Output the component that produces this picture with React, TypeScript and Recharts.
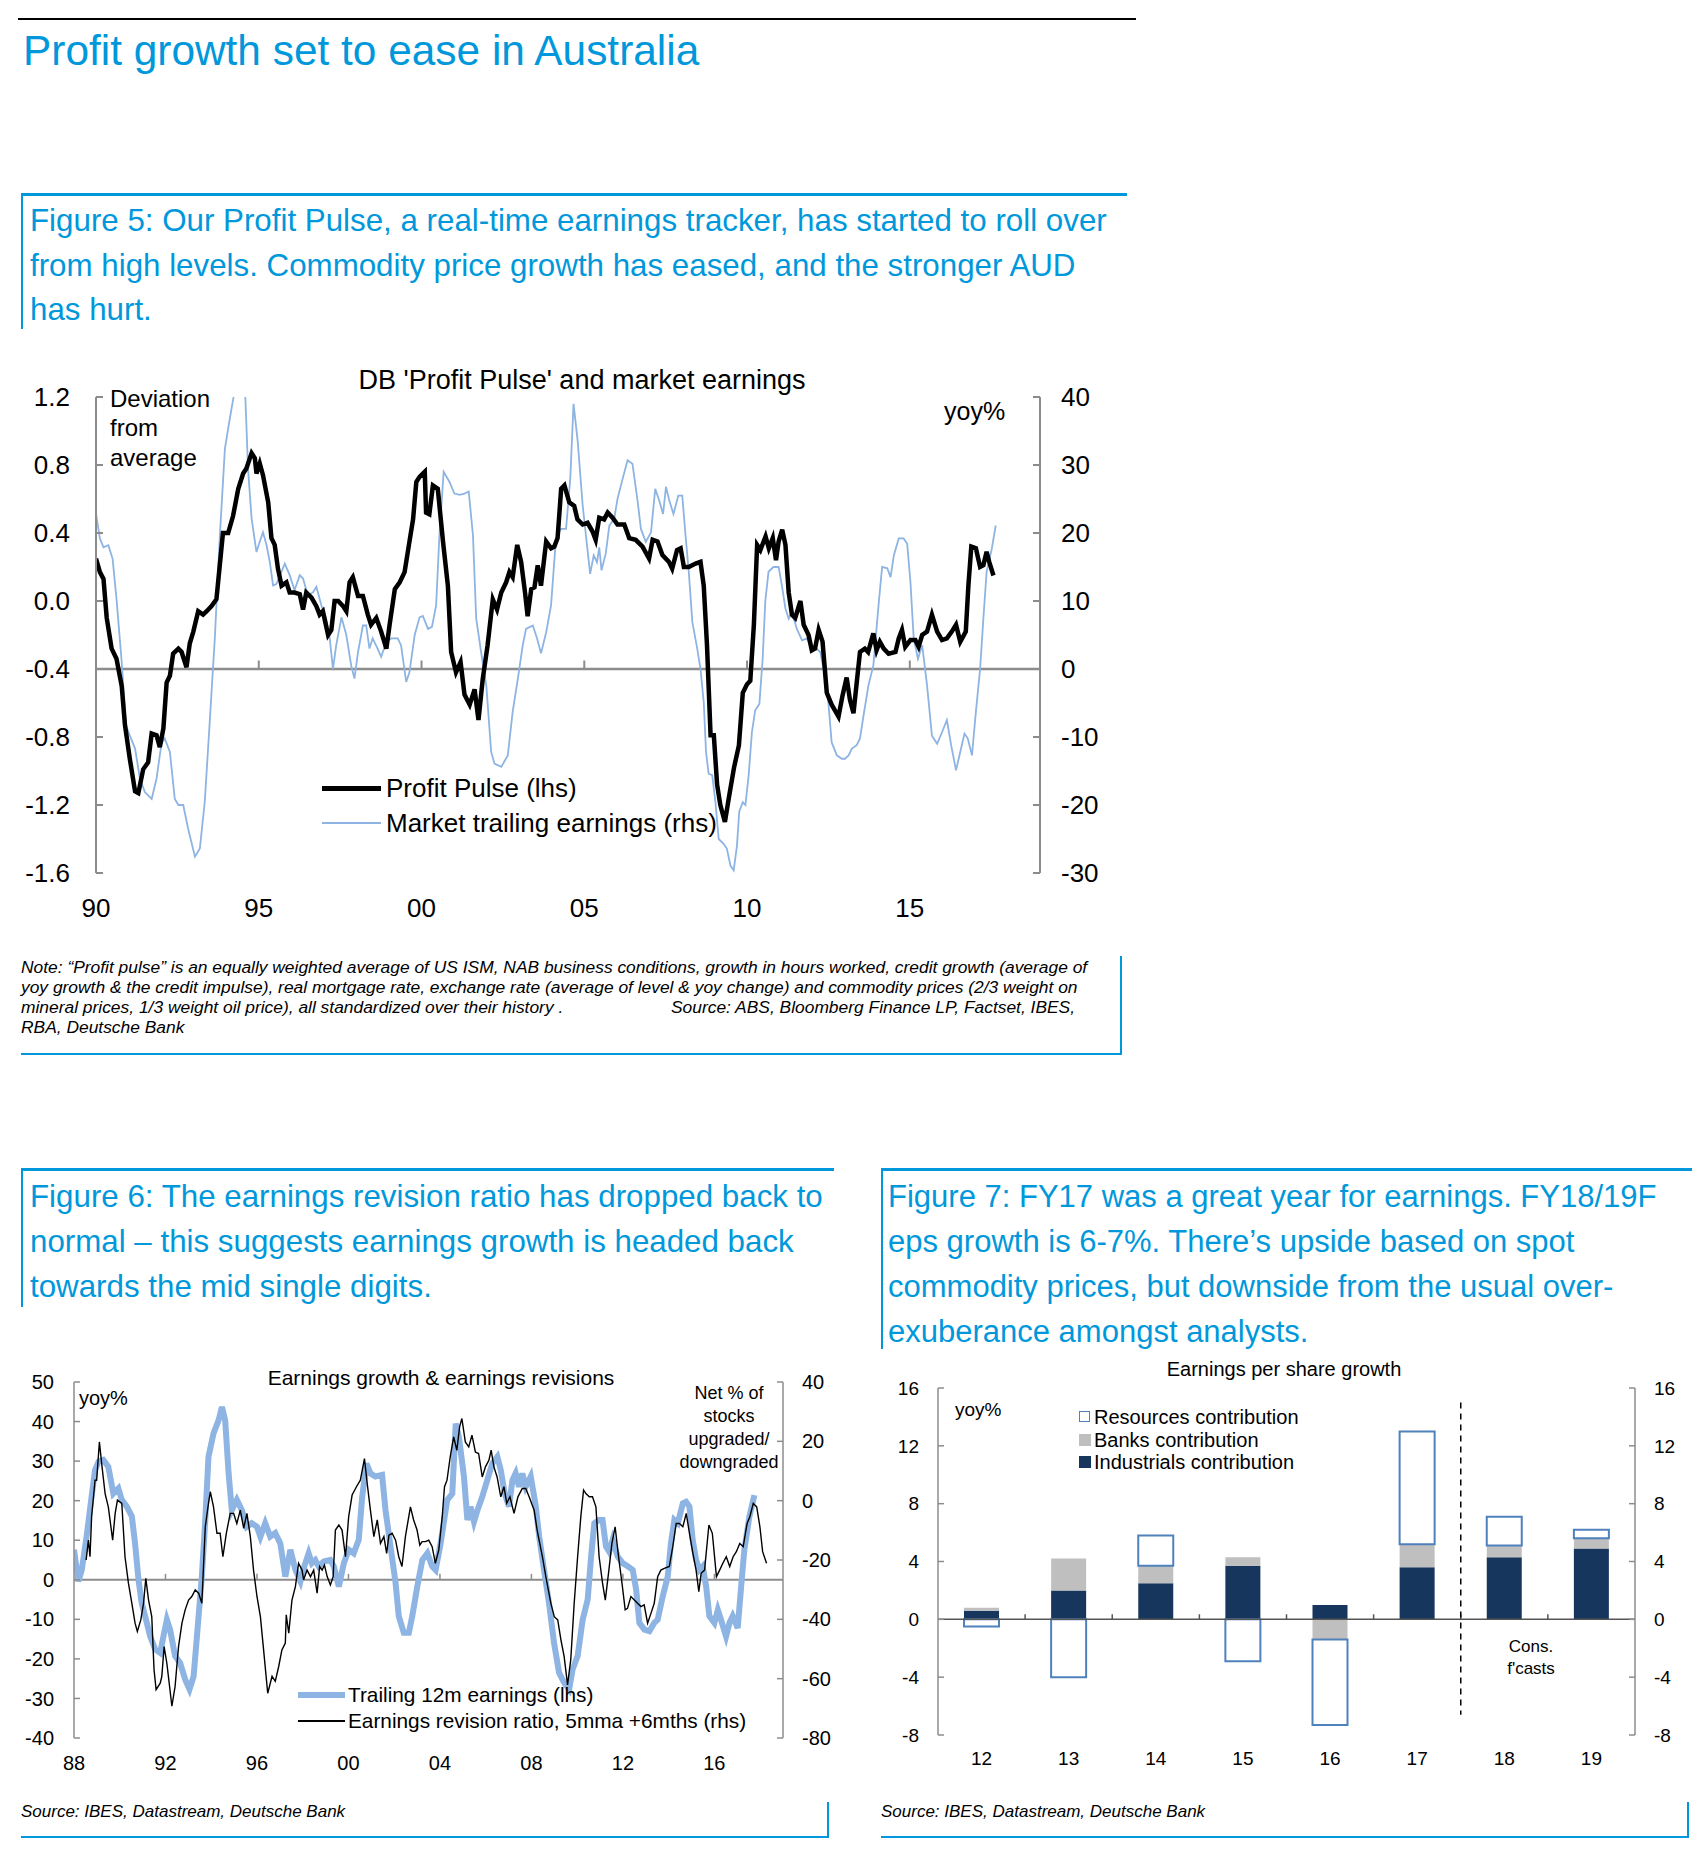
import React from 'react';
import { LineChart, Line, XAxis, YAxis, ReferenceLine, BarChart, Bar } from 'recharts';

// ---- Figure 5: DB 'Profit Pulse' (lhs) and market trailing earnings (rhs) ----
const pulseRaw: [number, number][] = [
  [1990.0, 0.25], [1990.12, 0.17], [1990.23, 0.13], [1990.33, -0.1], [1990.48, -0.28], [1990.63, -0.34], [1990.79, -0.5], [1990.89, -0.73],
  [1991.04, -0.93], [1991.2, -1.12], [1991.3, -1.13], [1991.45, -0.99], [1991.6, -0.95], [1991.71, -0.78], [1991.86, -0.79], [1991.96, -0.86],
  [1992.07, -0.75], [1992.17, -0.48], [1992.27, -0.44], [1992.37, -0.31], [1992.53, -0.28], [1992.63, -0.3], [1992.78, -0.39], [1992.88, -0.25],
  [1992.99, -0.18], [1993.14, -0.06], [1993.29, -0.08], [1993.4, -0.06], [1993.55, -0.03], [1993.7, 0.01], [1993.9, 0.4], [1994.06, 0.4],
  [1994.21, 0.5], [1994.37, 0.66], [1994.52, 0.75], [1994.62, 0.78], [1994.78, 0.87], [1994.88, 0.84], [1994.93, 0.75], [1995.03, 0.81],
  [1995.13, 0.74], [1995.29, 0.58], [1995.39, 0.37], [1995.49, 0.33], [1995.59, 0.19], [1995.7, 0.09], [1995.85, 0.11], [1995.95, 0.05],
  [1996.1, 0.05], [1996.26, 0.04], [1996.36, -0.05], [1996.46, 0.05], [1996.62, 0.02], [1996.77, -0.03], [1996.87, -0.08], [1996.97, -0.06],
  [1997.13, -0.2], [1997.23, -0.17], [1997.33, 0.0], [1997.44, 0.0], [1997.59, -0.03], [1997.69, -0.06], [1997.79, 0.11], [1997.89, 0.14],
  [1998.05, 0.03], [1998.2, 0.03], [1998.35, -0.08], [1998.45, -0.14], [1998.61, -0.1], [1998.76, -0.18], [1998.92, -0.28], [1999.02, -0.14],
  [1999.18, 0.07], [1999.33, 0.11], [1999.48, 0.17], [1999.63, 0.35], [1999.74, 0.48], [1999.84, 0.7], [1999.94, 0.73], [2000.1, 0.76],
  [2000.14, 0.52], [2000.24, 0.51], [2000.35, 0.68], [2000.5, 0.66], [2000.66, 0.35], [2000.81, 0.09], [2000.91, -0.3], [2001.06, -0.42],
  [2001.2, -0.36], [2001.32, -0.55], [2001.48, -0.61], [2001.63, -0.52], [2001.75, -0.7], [2001.88, -0.46], [2002.03, -0.26], [2002.19, 0.01],
  [2002.32, -0.05], [2002.45, 0.05], [2002.6, 0.11], [2002.7, 0.17], [2002.8, 0.14], [2002.94, 0.33], [2003.06, 0.23], [2003.18, 0.05],
  [2003.26, -0.09], [2003.37, 0.07], [2003.47, 0.08], [2003.57, 0.21], [2003.67, 0.09], [2003.83, 0.35], [2003.98, 0.31], [2004.08, 0.32],
  [2004.18, 0.37], [2004.29, 0.66], [2004.39, 0.68], [2004.54, 0.58], [2004.69, 0.56], [2004.79, 0.48], [2004.95, 0.45], [2005.1, 0.46],
  [2005.25, 0.41], [2005.35, 0.36], [2005.46, 0.49], [2005.61, 0.48], [2005.72, 0.52], [2005.87, 0.49], [2006.02, 0.45], [2006.23, 0.45],
  [2006.38, 0.37], [2006.58, 0.36], [2006.79, 0.32], [2006.99, 0.25], [2007.1, 0.36], [2007.25, 0.35], [2007.4, 0.27], [2007.6, 0.23],
  [2007.7, 0.19], [2007.85, 0.3], [2007.96, 0.31], [2008.06, 0.2], [2008.21, 0.2], [2008.42, 0.22], [2008.57, 0.23], [2008.67, 0.09],
  [2008.77, -0.26], [2008.88, -0.79], [2008.98, -0.79], [2009.08, -1.08], [2009.18, -1.2], [2009.32, -1.3], [2009.44, -1.16], [2009.6, -0.98],
  [2009.75, -0.85], [2009.87, -0.54], [2010.0, -0.49], [2010.1, -0.47], [2010.21, -0.14], [2010.31, 0.33], [2010.41, 0.3], [2010.57, 0.38],
  [2010.67, 0.31], [2010.79, 0.37], [2010.89, 0.24], [2010.97, 0.35], [2011.08, 0.42], [2011.18, 0.33], [2011.28, 0.05], [2011.38, -0.08],
  [2011.48, -0.1], [2011.64, 0.0], [2011.74, -0.14], [2011.89, -0.2], [2011.99, -0.29], [2012.09, -0.28], [2012.2, -0.17], [2012.32, -0.24],
  [2012.45, -0.54], [2012.6, -0.61], [2012.81, -0.68], [2012.93, -0.56], [2013.06, -0.45], [2013.16, -0.58], [2013.27, -0.66], [2013.37, -0.48],
  [2013.47, -0.3], [2013.62, -0.28], [2013.72, -0.3], [2013.88, -0.19], [2013.98, -0.29], [2014.08, -0.24], [2014.2, -0.28], [2014.35, -0.31],
  [2014.56, -0.3], [2014.66, -0.22], [2014.76, -0.17], [2014.86, -0.27], [2015.02, -0.23], [2015.17, -0.23], [2015.27, -0.27], [2015.38, -0.2],
  [2015.53, -0.18], [2015.68, -0.08], [2015.84, -0.18], [2015.99, -0.23], [2016.14, -0.22], [2016.29, -0.18], [2016.42, -0.14], [2016.55, -0.24],
  [2016.72, -0.18], [2016.8, 0.09], [2016.89, 0.32], [2017.03, 0.31], [2017.16, 0.2], [2017.26, 0.21], [2017.36, 0.29], [2017.44, 0.23],
  [2017.57, 0.15],
];

const marketRaw: [number, number][] = [
  [1990.0, 22.8], [1990.12, 19.2], [1990.23, 17.9], [1990.38, 18.2], [1990.51, 16.2], [1990.63, 10.3], [1990.79, 1.0], [1990.92, -8.3],
  [1991.04, -9.8], [1991.2, -11.7], [1991.35, -16.1], [1991.5, -18.1], [1991.71, -19.1], [1991.86, -16.1], [1992.01, -11.0], [1992.11, -10.2],
  [1992.27, -12.2], [1992.42, -19.1], [1992.53, -20.0], [1992.68, -20.0], [1992.83, -23.5], [1993.04, -27.6], [1993.19, -26.4], [1993.34, -19.6],
  [1993.5, -7.3], [1993.65, 4.5], [1993.8, 19.2], [1993.96, 32.4], [1994.11, 36.8], [1994.28, 41.5], [1994.45, 44.0], [1994.58, 41.0],
  [1994.67, 29.5], [1994.78, 22.1], [1994.93, 17.2], [1995.03, 18.7], [1995.13, 20.1], [1995.24, 18.2], [1995.34, 15.7], [1995.44, 12.3],
  [1995.54, 12.5], [1995.7, 14.3], [1995.8, 15.5], [1995.95, 13.8], [1996.1, 11.6], [1996.26, 13.8], [1996.36, 13.3], [1996.51, 10.8],
  [1996.67, 11.3], [1996.77, 12.1], [1996.92, 9.4], [1997.07, 7.4], [1997.18, 4.5], [1997.28, 0.0], [1997.38, 3.5], [1997.54, 7.6],
  [1997.69, 5.0], [1997.84, 0.5], [1997.94, -1.4], [1998.05, 2.5], [1998.2, 6.4], [1998.3, 6.4], [1998.4, 3.0], [1998.5, 4.5],
  [1998.65, 3.0], [1998.76, 1.8], [1998.92, 4.0], [1999.07, 4.5], [1999.27, 4.5], [1999.37, 3.5], [1999.53, -1.9], [1999.63, -0.5],
  [1999.79, 5.0], [1999.94, 7.6], [2000.04, 7.8], [2000.2, 5.9], [2000.32, 6.2], [2000.45, 9.4], [2000.55, 19.7], [2000.68, 29.0],
  [2000.86, 27.5], [2001.01, 25.8], [2001.17, 25.6], [2001.32, 25.8], [2001.45, 26.1], [2001.58, 19.7], [2001.68, 7.4], [2001.83, 2.5],
  [2001.99, -2.4], [2002.14, -12.2], [2002.24, -13.9], [2002.45, -14.4], [2002.65, -12.7], [2002.8, -6.3], [2002.96, -1.4], [2003.11, 3.5],
  [2003.21, 5.9], [2003.42, 6.4], [2003.55, 4.5], [2003.67, 2.3], [2003.83, 5.4], [2003.98, 9.4], [2004.13, 19.2], [2004.28, 20.6],
  [2004.44, 20.6], [2004.57, 28.0], [2004.67, 39.0], [2004.8, 33.4], [2004.95, 24.1], [2005.05, 19.7], [2005.18, 14.0], [2005.29, 16.7],
  [2005.39, 15.7], [2005.46, 17.9], [2005.53, 14.5], [2005.66, 17.0], [2005.77, 21.1], [2005.92, 22.1], [2006.02, 25.0], [2006.18, 28.0],
  [2006.33, 30.7], [2006.48, 30.2], [2006.64, 24.6], [2006.74, 20.6], [2006.89, 18.7], [2007.05, 20.1], [2007.18, 26.5], [2007.3, 24.8],
  [2007.42, 22.8], [2007.51, 26.8], [2007.61, 24.8], [2007.74, 22.8], [2007.89, 25.5], [2008.01, 25.5], [2008.11, 19.7], [2008.21, 14.3],
  [2008.32, 6.9], [2008.47, 3.0], [2008.57, 0.0], [2008.67, -4.9], [2008.74, -12.2], [2008.82, -15.4], [2008.93, -15.6], [2009.03, -19.6],
  [2009.13, -25.0], [2009.28, -25.7], [2009.38, -26.4], [2009.49, -28.9], [2009.59, -29.6], [2009.69, -26.0], [2009.76, -21.0], [2009.87, -19.6],
  [2009.95, -20.0], [2010.05, -15.6], [2010.15, -9.3], [2010.25, -6.1], [2010.38, -5.1], [2010.48, 1.5], [2010.56, 9.9], [2010.66, 14.3],
  [2010.81, 15.0], [2010.97, 15.0], [2011.07, 12.3], [2011.18, 8.9], [2011.28, 7.4], [2011.38, 8.4], [2011.53, 5.9], [2011.69, 4.2],
  [2011.84, 4.5], [2011.94, 3.5], [2012.09, 3.2], [2012.25, 2.5], [2012.35, 0.0], [2012.48, -3.9], [2012.6, -10.8], [2012.76, -12.7],
  [2012.91, -13.2], [2013.01, -13.2], [2013.12, -12.7], [2013.22, -11.7], [2013.37, -11.2], [2013.47, -10.2], [2013.58, -6.8], [2013.73, -2.4],
  [2013.88, 0.5], [2014.04, 9.4], [2014.15, 15.0], [2014.31, 14.8], [2014.41, 13.5], [2014.51, 16.7], [2014.66, 19.2], [2014.81, 19.2],
  [2014.92, 18.4], [2015.02, 12.8], [2015.12, 4.5], [2015.25, 1.5], [2015.38, 3.5], [2015.53, -2.4], [2015.68, -9.8], [2015.84, -11.0],
  [2015.99, -9.3], [2016.14, -7.5], [2016.27, -11.2], [2016.42, -14.9], [2016.55, -12.2], [2016.68, -9.5], [2016.78, -10.2], [2016.91, -12.7],
  [2017.03, -6.3], [2017.16, 0.0], [2017.26, 7.4], [2017.36, 14.3], [2017.52, 17.7], [2017.64, 21.1],
];

const fig5YearTicks = [1990, 1995, 2000, 2005, 2010, 2015];
const fig5LeftTicks = [-1.6, -1.2, -0.8, -0.4, 0, 0.4, 0.8, 1.2];
const fig5RightTicks = [-30, -20, -10, 0, 10, 20, 30, 40];

// ---- Figure 6: trailing 12m earnings (lhs) and revision ratio (rhs) ----
const trailingRaw: [number, number][] = [
  [1988.0, 7.6], [1988.19, -0.4], [1988.34, 2.5], [1988.55, 10.9], [1988.77, 21.0], [1988.92, 27.7], [1989.07, 29.8], [1989.28, 30.3],
  [1989.5, 28.6], [1989.72, 21.8], [1989.94, 23.1], [1990.09, 20.2], [1990.31, 18.5], [1990.53, 16.0], [1990.67, 9.2], [1990.82, 0.0],
  [1990.96, -5.9], [1991.15, -10.1], [1991.33, -14.3], [1991.55, -17.6], [1991.77, -18.5], [1991.91, -14.3], [1992.06, -10.1], [1992.2, -12.6],
  [1992.42, -19.3], [1992.64, -21.0], [1992.86, -25.2], [1993.05, -27.7], [1993.23, -24.4], [1993.4, -12.6], [1993.59, 0.8], [1993.74, 15.1],
  [1993.88, 31.1], [1994.1, 37.0], [1994.32, 40.3], [1994.47, 43.7], [1994.61, 40.3], [1994.76, 26.9], [1994.9, 17.6], [1995.12, 20.2],
  [1995.34, 17.6], [1995.55, 13.4], [1995.77, 14.3], [1996.0, 13.4], [1996.15, 10.9], [1996.36, 14.3], [1996.58, 10.9], [1996.8, 11.8],
  [1997.02, 9.2], [1997.24, 0.8], [1997.46, 7.6], [1997.68, 2.5], [1997.9, -0.4], [1998.04, 2.9], [1998.26, 6.7], [1998.4, 4.2],
  [1998.55, 5.0], [1998.7, 3.4], [1998.92, 4.6], [1999.2, 5.0], [1999.36, 3.4], [1999.58, -1.7], [1999.8, 4.2], [2000.01, 7.6],
  [2000.23, 6.7], [2000.45, 10.1], [2000.6, 21.0], [2000.79, 29.4], [2000.96, 26.9], [2001.18, 26.1], [2001.47, 26.5], [2001.62, 17.6],
  [2001.84, 8.4], [2002.06, -0.8], [2002.2, -9.2], [2002.42, -13.4], [2002.64, -13.4], [2002.79, -9.2], [2003.01, -1.7], [2003.23, 5.0],
  [2003.45, 6.7], [2003.66, 3.4], [2003.81, 2.5], [2004.03, 9.2], [2004.32, 20.2], [2004.54, 21.8], [2004.69, 39.5], [2004.83, 36.1],
  [2005.05, 26.1], [2005.2, 15.1], [2005.34, 18.5], [2005.49, 14.7], [2005.64, 17.6], [2005.85, 21.0], [2006.07, 25.2], [2006.29, 29.4],
  [2006.51, 31.1], [2006.66, 27.7], [2006.83, 21.8], [2007.02, 18.5], [2007.17, 25.2], [2007.31, 26.9], [2007.46, 23.5], [2007.6, 26.9],
  [2007.75, 23.5], [2007.97, 26.1], [2008.18, 19.0], [2008.34, 10.9], [2008.55, 2.5], [2008.77, -5.9], [2008.99, -16.0], [2009.21, -23.5],
  [2009.43, -26.0], [2009.65, -27.7], [2009.8, -22.7], [2010.02, -19.3], [2010.24, -10.1], [2010.46, -5.0], [2010.61, 5.9], [2010.75, 14.3],
  [2010.96, 15.1], [2011.11, 15.1], [2011.26, 8.4], [2011.4, 7.1], [2011.55, 10.1], [2011.77, 5.9], [2011.99, 4.2], [2012.21, 3.4],
  [2012.43, 2.5], [2012.58, -2.5], [2012.72, -10.9], [2012.94, -12.6], [2013.16, -13.0], [2013.37, -10.9], [2013.52, -10.1], [2013.74, -4.2],
  [2013.96, 0.8], [2014.1, 9.2], [2014.25, 15.1], [2014.4, 14.3], [2014.62, 19.3], [2014.76, 19.7], [2014.91, 18.5], [2015.05, 10.1],
  [2015.2, 5.0], [2015.34, 2.5], [2015.49, 3.4], [2015.64, -1.7], [2015.78, -9.2], [2016.0, -10.9], [2016.15, -7.6], [2016.29, -10.1],
  [2016.51, -14.3], [2016.66, -10.9], [2016.8, -9.2], [2017.02, -12.2], [2017.17, -1.7], [2017.31, 7.6], [2017.53, 16.0], [2017.75, 21.4],
];

const revisionRaw: [number, number][] = [
  [1988.53, -20.0], [1988.63, -13.3], [1988.7, -18.9], [1988.77, -5.4], [1988.92, 6.9], [1988.99, 6.9], [1989.11, 19.8], [1989.21, 12.5],
  [1989.36, 2.4], [1989.5, -2.1], [1989.69, -13.3], [1989.8, -4.3], [1989.9, 0.2], [1990.09, -0.9], [1990.23, -18.9], [1990.38, -27.8],
  [1990.53, -34.6], [1990.67, -41.3], [1990.77, -44.1], [1990.92, -40.2], [1991.04, -34.6], [1991.14, -26.2], [1991.26, -33.5], [1991.4, -39.1],
  [1991.5, -57.0], [1991.59, -63.7], [1991.77, -61.5], [1991.84, -59.2], [1991.94, -49.2], [1992.06, -54.8], [1992.28, -69.3], [1992.42, -62.6],
  [1992.57, -49.2], [1992.72, -41.3], [1992.86, -36.8], [1993.01, -33.5], [1993.15, -32.3], [1993.3, -30.1], [1993.45, -31.2], [1993.59, -34.6],
  [1993.74, -8.8], [1993.88, -0.9], [1993.96, 3.0], [1994.1, -2.1], [1994.25, -11.0], [1994.39, -11.0], [1994.51, -18.9], [1994.66, -11.0],
  [1994.83, -4.3], [1994.98, -4.3], [1995.12, -7.7], [1995.27, -3.2], [1995.42, -9.3], [1995.56, -4.3], [1995.71, -12.1], [1995.85, -23.4],
  [1996.0, -32.3], [1996.15, -39.1], [1996.29, -50.3], [1996.47, -64.9], [1996.66, -59.2], [1996.8, -60.9], [1996.95, -55.9], [1997.09, -50.3],
  [1997.24, -48.0], [1997.28, -38.5], [1997.39, -44.7], [1997.53, -33.5], [1997.68, -29.0], [1997.82, -21.1], [1997.97, -23.4], [1998.04, -26.7],
  [1998.19, -23.4], [1998.34, -25.6], [1998.48, -23.4], [1998.63, -31.2], [1998.74, -22.2], [1998.85, -23.4], [1998.95, -21.7], [1999.07, -25.6],
  [1999.21, -28.4], [1999.33, -25.6], [1999.43, -9.9], [1999.58, -8.2], [1999.72, -9.9], [1999.87, -18.9], [2000.01, -5.4], [2000.16, 1.9],
  [2000.35, 4.7], [2000.52, 6.9], [2000.7, 14.2], [2000.82, 5.8], [2000.96, -3.2], [2001.11, -12.1], [2001.26, -6.5], [2001.4, -14.4],
  [2001.55, -12.1], [2001.67, -17.8], [2001.77, -11.6], [2001.91, -11.0], [2002.06, -13.3], [2002.2, -18.9], [2002.34, -22.2], [2002.49, -12.1],
  [2002.71, -2.1], [2002.85, -6.5], [2003.0, -9.9], [2003.12, -15.0], [2003.22, -13.8], [2003.37, -13.8], [2003.51, -13.3], [2003.66, -15.5],
  [2003.8, -21.1], [2003.95, -16.6], [2004.1, -5.4], [2004.2, 4.7], [2004.31, 6.9], [2004.45, 14.8], [2004.6, 21.5], [2004.74, 17.0],
  [2004.86, 24.9], [2004.96, 27.7], [2005.11, 19.8], [2005.26, 18.1], [2005.4, 22.1], [2005.55, 16.4], [2005.69, 15.9], [2005.85, 8.0],
  [2005.99, 11.4], [2006.14, 13.6], [2006.24, 17.0], [2006.36, 11.4], [2006.5, 8.0], [2006.66, 1.3], [2006.8, 4.7], [2006.92, -0.9],
  [2007.06, 1.3], [2007.24, -4.3], [2007.41, 1.3], [2007.6, 4.1], [2007.75, 4.1], [2007.9, 1.3], [2008.12, -3.2], [2008.25, -9.9],
  [2008.48, -18.9], [2008.63, -25.6], [2008.85, -34.6], [2009.0, -39.1], [2009.15, -40.2], [2009.29, -46.9], [2009.43, -52.5], [2009.58, -62.1],
  [2009.72, -53.6], [2009.87, -34.6], [2010.02, -18.9], [2010.16, -5.4], [2010.28, 3.6], [2010.38, 2.4], [2010.53, 1.3], [2010.67, 1.3],
  [2010.82, -2.1], [2010.96, -18.9], [2011.11, -27.8], [2011.23, -33.5], [2011.37, -24.5], [2011.52, -14.4], [2011.66, -8.8], [2011.81, -18.9],
  [2011.96, -27.8], [2012.1, -36.8], [2012.2, -36.3], [2012.35, -32.3], [2012.5, -33.5], [2012.64, -34.6], [2012.79, -35.7], [2012.93, -35.1],
  [2013.08, -41.3], [2013.23, -37.9], [2013.37, -34.6], [2013.52, -25.6], [2013.66, -23.4], [2013.81, -22.8], [2014.03, -22.2], [2014.18, -15.5],
  [2014.33, -7.7], [2014.47, -7.7], [2014.62, -8.8], [2014.77, -4.3], [2014.91, -11.0], [2015.06, -17.8], [2015.2, -23.4], [2015.32, -30.7],
  [2015.42, -24.5], [2015.57, -23.4], [2015.76, -8.2], [2015.91, -11.0], [2016.09, -25.6], [2016.23, -23.4], [2016.37, -21.1], [2016.52, -18.9],
  [2016.67, -22.2], [2016.82, -18.9], [2016.96, -17.2], [2017.11, -14.4], [2017.26, -15.5], [2017.43, -7.7], [2017.55, -5.4], [2017.7, -0.9],
  [2017.85, -2.1], [2017.99, -8.8], [2018.11, -17.2], [2018.28, -21.1],
];

const fig6YearTicks = [1988, 1992, 1996, 2000, 2004, 2008, 2012, 2016];
const fig6LeftTicks = [-40, -30, -20, -10, 0, 10, 20, 30, 40, 50];
const fig6RightTicks = [-80, -60, -40, -20, 0, 20, 40];

// ---- Figure 7: EPS growth contributions (yoy%) ----
const fyCategories = ['12', '13', '14', '15', '16', '17', '18', '19'];
const industrials = [0.6, 2.0, 2.5, 3.7, 1.0, 3.6, 4.3, 4.9];
const banks = [0.2, 2.2, 1.2, 0.6, -1.4, 1.6, 0.8, 0.7];
const resources = [-0.5, -4.0, 2.1, -2.9, -5.9, 7.8, 2.0, 0.6];
const fig7Ticks = [-8, -4, 0, 4, 8, 12, 16];

const toPts = (arr: [number, number][]) => arr.map(([x, y]) => ({ x, y }));
const pulse = toPts(pulseRaw);
const market = toPts(marketRaw);
const trailing = toPts(trailingRaw);
const revision = toPts(revisionRaw);
const epsData = fyCategories.map((c, i) => ({
  fy: c,
  industrials: industrials[i],
  banks: banks[i],
  resources: resources[i],
}));

const FONT = '"Liberation Sans", Arial, Helvetica, sans-serif';
const DB_BLUE = '#0098DB';
const LIGHT_BLUE = '#8DB4E2';
const AXIS_GREY = '#8C8C8C';
const NAVY = '#17365D';
const BANK_GREY = '#BFBFBF';
const RES_BLUE = '#4F81BD';

const yy = (v: number) => String(v).slice(2);

// text placed by the vertical centre of its line
function T({ x, cy, size, children, color = '#000', italic = false, anchor = 'start' }: any) {
  const transform = anchor === 'middle' ? 'translateX(-50%)' : anchor === 'end' ? 'translateX(-100%)' : undefined;
  return (
    <div
      style={{
        position: 'absolute',
        left: x,
        top: cy - size * 0.55,
        fontSize: size,
        lineHeight: `${size * 1.1}px`,
        whiteSpace: 'nowrap',
        color,
        fontStyle: italic ? 'italic' : 'normal',
        transform,
      }}
    >
      {children}
    </div>
  );
}

function Rule({ x, y, w, h, color }: any) {
  return <div style={{ position: 'absolute', left: x, top: y, width: w, height: h, background: color }} />;
}

function ProfitPulseChart() {
  const axisProps = {
    axisLine: { stroke: AXIS_GREY, strokeWidth: 2 },
    tickLine: { stroke: AXIS_GREY, strokeWidth: 2 },
    tick: { fontSize: 26, fill: '#000', fontFamily: FONT },
    interval: 0 as const,
    allowDataOverflow: true,
  };
  return (
    <LineChart width={1140} height={600} margin={{ top: 37, right: 40, bottom: 47, left: 30 }}>
      <XAxis
        type="number"
        dataKey="x"
        domain={[1990, 2019]}
        ticks={fig5YearTicks}
        tickFormatter={yy}
        axisLine={false}
        tickLine={false}
        tickSize={0}
        tickMargin={26}
        height={40}
        interval={0}
        allowDataOverflow
        tick={{ fontSize: 26, fill: '#000', fontFamily: FONT }}
      />
      <YAxis
        yAxisId="left"
        domain={[-1.6, 1.2]}
        ticks={fig5LeftTicks}
        tickFormatter={(v: number) => v.toFixed(1)}
        width={66}
        tickSize={-7}
        tickMargin={33}
        {...axisProps}
      />
      <YAxis
        yAxisId="right"
        orientation="right"
        domain={[-30, 40]}
        ticks={fig5RightTicks}
        width={60}
        tickSize={-7}
        tickMargin={28}
        {...axisProps}
      />
      <ReferenceLine yAxisId="left" y={-0.4} stroke={AXIS_GREY} strokeWidth={2.5} />
      {fig5YearTicks.slice(1).map((t) => (
        <ReferenceLine
          key={t}
          yAxisId="left"
          segment={[{ x: t, y: -0.4 }, { x: t, y: -0.35 }]}
          stroke={AXIS_GREY}
          strokeWidth={2}
        />
      ))}
      <Line
        yAxisId="right"
        data={market}
        dataKey="y"
        stroke={LIGHT_BLUE}
        strokeWidth={1.8}
        dot={false}
        isAnimationActive={false}
      />
      <Line
        yAxisId="left"
        data={pulse}
        dataKey="y"
        stroke="#000"
        strokeWidth={4.5}
        dot={false}
        isAnimationActive={false}
      />
    </LineChart>
  );
}

function RevisionsChart() {
  const axisProps = {
    axisLine: { stroke: AXIS_GREY, strokeWidth: 1.5 },
    tickLine: { stroke: AXIS_GREY, strokeWidth: 1.5 },
    tick: { fontSize: 20, fill: '#000', fontFamily: FONT },
    interval: 0 as const,
    allowDataOverflow: true,
  };
  return (
    <LineChart width={840} height={450} margin={{ top: 42, right: 7, bottom: 22, left: 24 }}>
      <XAxis
        type="number"
        dataKey="x"
        domain={[1988, 2019]}
        ticks={fig6YearTicks}
        tickFormatter={yy}
        axisLine={false}
        tickLine={false}
        tickSize={0}
        tickMargin={18}
        height={30}
        interval={0}
        allowDataOverflow
        tick={{ fontSize: 20, fill: '#000', fontFamily: FONT }}
      />
      <YAxis yAxisId="left" domain={[-40, 50]} ticks={fig6LeftTicks} width={50} tickSize={-6} tickMargin={26} {...axisProps} />
      <YAxis
        yAxisId="right"
        orientation="right"
        domain={[-80, 40]}
        ticks={fig6RightTicks}
        width={50}
        tickSize={-6}
        tickMargin={25}
        {...axisProps}
      />
      <ReferenceLine yAxisId="left" y={0} stroke={AXIS_GREY} strokeWidth={2} />
      {fig6YearTicks.slice(1).map((t) => (
        <ReferenceLine
          key={t}
          yAxisId="left"
          segment={[{ x: t, y: 0 }, { x: t, y: 1.5 }]}
          stroke={AXIS_GREY}
          strokeWidth={1.5}
        />
      ))}
      <Line
        yAxisId="left"
        data={trailing}
        dataKey="y"
        stroke={LIGHT_BLUE}
        strokeWidth={6}
        dot={false}
        isAnimationActive={false}
      />
      <Line
        yAxisId="right"
        data={revision}
        dataKey="y"
        stroke="#000"
        strokeWidth={1.4}
        dot={false}
        isAnimationActive={false}
      />
    </LineChart>
  );
}

function EpsChart() {
  const axisProps = {
    axisLine: { stroke: AXIS_GREY, strokeWidth: 1.5 },
    tickLine: { stroke: AXIS_GREY, strokeWidth: 1.5 },
    tick: { fontSize: 19, fill: '#000', fontFamily: FONT },
    interval: 0 as const,
    allowDataOverflow: true,
  };
  return (
    <BarChart
      width={843}
      height={450}
      data={epsData}
      stackOffset="sign"
      barSize={35}
      margin={{ top: 48, right: 18, bottom: 25, left: 28 }}
    >
      <XAxis
        dataKey="fy"
        axisLine={false}
        tickLine={false}
        tickSize={0}
        tickMargin={17}
        height={30}
        interval={0}
        tick={{ fontSize: 19, fill: '#000', fontFamily: FONT }}
      />
      <YAxis yAxisId="left" domain={[-8, 16]} ticks={fig7Ticks} width={50} tickSize={-6} tickMargin={25} {...axisProps} />
      <YAxis
        yAxisId="right"
        orientation="right"
        domain={[-8, 16]}
        ticks={fig7Ticks}
        width={50}
        tickSize={-6}
        tickMargin={25}
        {...axisProps}
      />
      <Bar yAxisId="left" dataKey="industrials" stackId="eps" fill={NAVY} isAnimationActive={false} />
      <Bar yAxisId="left" dataKey="banks" stackId="eps" fill={BANK_GREY} isAnimationActive={false} />
      <Bar
        yAxisId="left"
        dataKey="resources"
        stackId="eps"
        fill="#FFFFFF"
        stroke={RES_BLUE}
        strokeWidth={2}
        isAnimationActive={false}
      />
      <ReferenceLine yAxisId="left" y={0} stroke="#555555" strokeWidth={1.5} />
      {fyCategories.slice(1).map((c) => (
        <ReferenceLine
          key={c}
          yAxisId="left"
          position="start"
          segment={[{ x: c, y: 0 }, { x: c, y: 0.35 }]}
          stroke="#555555"
          strokeWidth={1.5}
        />
      ))}
      <ReferenceLine
        yAxisId="left"
        position="start"
        segment={[{ x: '18', y: 15 }, { x: '18', y: -6.6 }]}
        stroke="#000"
        strokeWidth={1.5}
        strokeDasharray="6 5"
      />
    </BarChart>
  );
}

function LegendSquare({ x, cy, fill, border }: any) {
  return (
    <div
      style={{
        position: 'absolute',
        left: x,
        top: cy - 6,
        width: border ? 9 : 12,
        height: border ? 9 : 12,
        background: fill,
        border: border ? `1.5px solid ${border}` : undefined,
      }}
    />
  );
}

export default function App() {
  return (
    <div
      style={{
        position: 'absolute',
        left: 0,
        top: 0,
        width: 1703,
        height: 1857,
        background: '#fff',
        fontFamily: FONT,
        color: '#000',
        overflow: 'hidden',
      }}
    >
      {/* page header */}
      <Rule x={18} y={18} w={1118} h={2} color="#000" />
      <T x={23} cy={51} size={42.4} color={DB_BLUE}>Profit growth set to ease in Australia</T>

      {/* Figure 5 */}
      <Rule x={21} y={193} w={1106} h={3} color={DB_BLUE} />
      <Rule x={21} y={193} w={1.5} h={136} color={DB_BLUE} />
      <T x={30} cy={221} size={31.3} color={DB_BLUE}>
        Figure 5: Our Profit Pulse, a real-time earnings tracker, has started to roll over
      </T>
      <T x={30} cy={266} size={31.3} color={DB_BLUE}>
        from high levels. Commodity price growth has eased, and the stronger AUD
      </T>
      <T x={30} cy={310} size={31.3} color={DB_BLUE}>has hurt.</T>

      <div style={{ position: 'absolute', left: 0, top: 360 }}>
        <ProfitPulseChart />
      </div>
      <T x={582} cy={381} size={27} anchor="middle">DB 'Profit Pulse' and market earnings</T>
      <T x={110} cy={399} size={24}>Deviation</T>
      <T x={110} cy={428} size={24}>from</T>
      <T x={110} cy={458} size={24}>average</T>
      <T x={944} cy={412} size={25}>yoy%</T>
      <Rule x={322} y={786} w={59} h={5} color="#000" />
      <T x={386} cy={788} size={26}>Profit Pulse (lhs)</T>
      <Rule x={322} y={822} w={59} h={2} color={LIGHT_BLUE} />
      <T x={386} cy={823} size={26}>Market trailing earnings (rhs)</T>

      <T x={21} cy={968} size={17.4} italic>
        Note: “Profit pulse” is an equally weighted average of US ISM, NAB business conditions, growth in hours worked, credit growth (average of
      </T>
      <T x={21} cy={988} size={17.4} italic>
        yoy growth &amp; the credit impulse), real mortgage rate, exchange rate (average of level &amp; yoy change) and commodity prices (2/3 weight on
      </T>
      <T x={21} cy={1008} size={17.4} italic>
        mineral prices, 1/3 weight oil price), all standardized over their history .
      </T>
      <T x={671} cy={1008} size={17.4} italic>Source: ABS, Bloomberg Finance LP, Factset, IBES,</T>
      <T x={21} cy={1028} size={17.4} italic>RBA, Deutsche Bank</T>
      <Rule x={1120} y={956} w={1.5} h={98} color={DB_BLUE} />
      <Rule x={21} y={1053} w={1101} h={2} color={DB_BLUE} />

      {/* Figure 6 */}
      <Rule x={21} y={1168} w={813} h={3} color={DB_BLUE} />
      <Rule x={21} y={1168} w={1.5} h={139} color={DB_BLUE} />
      <T x={30} cy={1197} size={31.3} color={DB_BLUE}>Figure 6: The earnings revision ratio has dropped back to</T>
      <T x={30} cy={1242} size={31.3} color={DB_BLUE}>normal – this suggests earnings growth is headed back</T>
      <T x={30} cy={1287} size={31.3} color={DB_BLUE}>towards the mid single digits.</T>

      <div style={{ position: 'absolute', left: 0, top: 1340 }}>
        <RevisionsChart />
      </div>
      <T x={441} cy={1378} size={21} anchor="middle">Earnings growth &amp; earnings revisions</T>
      <T x={79} cy={1398} size={20}>yoy%</T>
      <T x={729} cy={1394} size={18} anchor="middle">Net % of</T>
      <T x={729} cy={1417} size={18} anchor="middle">stocks</T>
      <T x={729} cy={1440} size={18} anchor="middle">upgraded/</T>
      <T x={729} cy={1463} size={18} anchor="middle">downgraded</T>
      <Rule x={298} y={1692} w={47} h={6} color={LIGHT_BLUE} />
      <T x={348} cy={1695} size={20.8}>Trailing 12m earnings (lhs)</T>
      <Rule x={298} y={1720} w={47} h={1.5} color="#000" />
      <T x={348} cy={1721} size={20.8}>Earnings revision ratio, 5mma +6mths (rhs)</T>
      <T x={21} cy={1812} size={17} italic>Source: IBES, Datastream, Deutsche Bank</T>
      <Rule x={827} y={1802} w={1.5} h={36} color={DB_BLUE} />
      <Rule x={21} y={1836} w={808} h={2} color={DB_BLUE} />

      {/* Figure 7 */}
      <Rule x={881} y={1168} w={811} h={3} color={DB_BLUE} />
      <Rule x={881} y={1168} w={1.5} h={181} color={DB_BLUE} />
      <T x={888} cy={1197} size={31} color={DB_BLUE}>Figure 7: FY17 was a great year for earnings. FY18/19F</T>
      <T x={888} cy={1242} size={31} color={DB_BLUE}>eps growth is 6-7%. There’s upside based on spot</T>
      <T x={888} cy={1287} size={31} color={DB_BLUE}>commodity prices, but downside from the usual over-</T>
      <T x={888} cy={1332} size={31} color={DB_BLUE}>exuberance amongst analysts.</T>

      <div style={{ position: 'absolute', left: 860, top: 1340 }}>
        <EpsChart />
      </div>
      <T x={1284} cy={1369} size={20} anchor="middle">Earnings per share growth</T>
      <T x={955} cy={1410} size={19}>yoy%</T>
      <LegendSquare x={1079} cy={1417} fill="#fff" border={RES_BLUE} />
      <T x={1094} cy={1417} size={20}>Resources contribution</T>
      <LegendSquare x={1079} cy={1440} fill={BANK_GREY} />
      <T x={1094} cy={1440} size={20}>Banks contribution</T>
      <LegendSquare x={1079} cy={1462} fill={NAVY} />
      <T x={1094} cy={1462} size={20}>Industrials contribution</T>
      <T x={1531} cy={1647} size={17} anchor="middle">Cons.</T>
      <T x={1531} cy={1669} size={17} anchor="middle">f'casts</T>
      <T x={881} cy={1812} size={17} italic>Source: IBES, Datastream, Deutsche Bank</T>
      <Rule x={1687} y={1802} w={1.5} h={36} color={DB_BLUE} />
      <Rule x={881} y={1836} w={808} h={2} color={DB_BLUE} />
    </div>
  );
}
